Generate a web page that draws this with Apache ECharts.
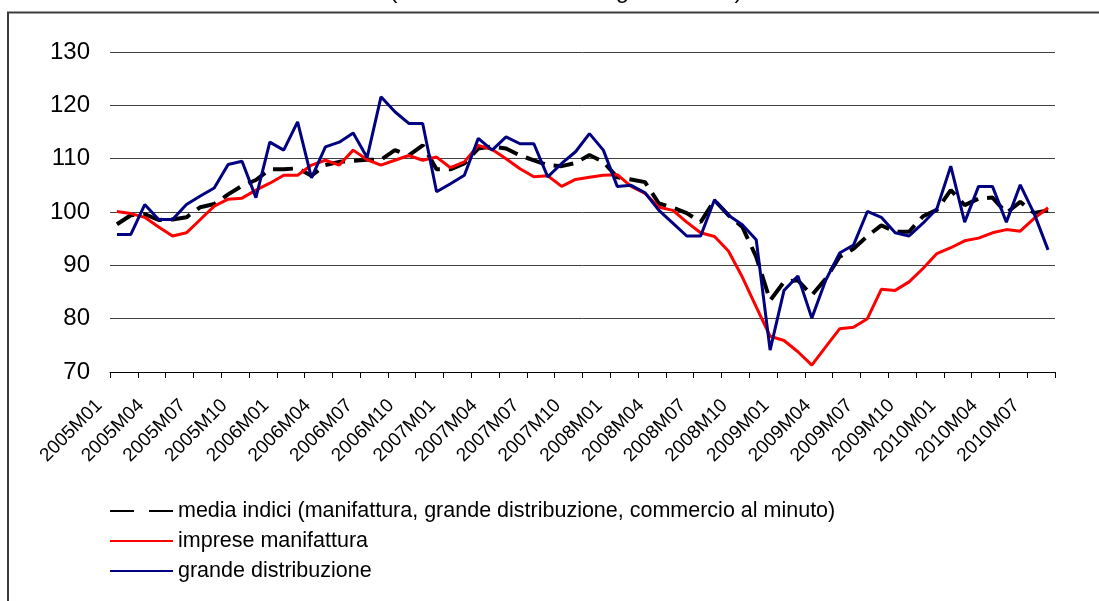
<!DOCTYPE html>
<html>
<head>
<meta charset="utf-8">
<script src="https://cdn.jsdelivr.net/npm/echarts@6/dist/echarts.min.js"></script>
<style>
  html, body { margin: 0; padding: 0; background: #fff; }
  #chart { width: 1099px; height: 601px; }
</style>
</head>
<body>
<div id="chart"></div>
<script>
// ── Data ───────────────────────────────────────────────────────────────────────
const years = ['2005', '2006', '2007', '2008', '2009', '2010']
const months = ['M01', 'M02', 'M03', 'M04', 'M05', 'M06', 'M07', 'M08', 'M09', 'M10', 'M11', 'M12']
const lastMonth = '2010M08'

const categories = []
for (const y of years) {
  for (const m of months) {
    categories.push(y + m)
    if (y + m === lastMonth) break
  }
}

// media indici (manifattura, grande distribuzione, commercio al minuto)
const mediaIndici = [
  97.7, 99.4, 99.6, 98.5, 98.6, 99.0, 100.9, 101.5, 103.3, 104.9, 106.0, 108.0,
  108.0, 108.2, 106.8, 108.8, 109.4, 109.6, 109.8, 109.8, 111.6, 110.6, 112.5, 108.0,
  108.0, 109.1, 111.9, 112.3, 111.9, 110.6, 109.7, 108.8, 108.6, 109.2, 110.7, 109.4,
  106.5, 106.1, 105.6, 101.6, 100.8, 99.8, 98.1, 102.2, 99.4, 97.2, 91.6, 83.4,
  86.9, 87.2, 84.4, 87.5, 91.6, 93.1, 95.5, 97.5, 96.3, 96.3, 99.2, 100.4,
  104.1, 101.3, 102.5, 102.7, 99.8, 101.9, 99.8, 100.3,
]

// imprese manifattura
const impreseManifattura = [
  100.1, 99.7, 99.0, 97.2, 95.5, 96.1, 98.6, 101.1, 102.4, 102.6, 104.1, 105.4,
  106.9, 106.9, 108.8, 109.7, 108.8, 111.6, 109.8, 108.8, 109.7, 110.6, 109.7, 110.3,
  108.3, 109.4, 112.5, 111.7, 110.0, 108.1, 106.6, 106.8, 104.8, 106.1, 106.5, 106.9,
  107.0, 104.8, 103.5, 100.9, 100.3, 98.1, 96.1, 95.4, 92.7, 87.8, 82.2, 76.7,
  75.9, 73.8, 71.3, 74.7, 78.1, 78.4, 80.0, 85.5, 85.3, 86.9, 89.4, 92.2,
  93.3, 94.6, 95.1, 96.1, 96.7, 96.4, 98.8, 100.8,
]

// grande distribuzione
const grandeDistribuzione = [
  95.8, 95.8, 101.4, 98.6, 98.6, 101.4, 103.0, 104.5, 108.9, 109.5, 102.7, 113.1,
  111.6, 116.9, 106.4, 112.2, 113.1, 114.8, 110.2, 121.6, 118.8, 116.6, 116.6, 103.8,
  105.3, 106.9, 113.8, 111.6, 114.1, 112.8, 112.8, 106.6, 109.1, 111.3, 114.7, 111.6,
  104.8, 105.0, 103.6, 100.3, 97.9, 95.5, 95.5, 102.3, 99.4, 97.6, 94.8, 74.1,
  85.3, 88.0, 80.1, 87.2, 92.3, 93.8, 100.1, 99.0, 96.1, 95.5, 97.9, 100.6,
  108.6, 98.1, 104.8, 104.8, 98.1, 105.1, 99.7, 92.9,
]

const seriesNames = [
  'media indici (manifattura, grande distribuzione, commercio al minuto)',
  'imprese manifattura',
  'grande distribuzione',
]
const titleText = '(dati 2005=100 destagionalizzati)'

// ── Chart ──────────────────────────────────────────────────────────────────────
const FONT = 'Arial, "Liberation Sans", sans-serif'
const chart = echarts.init(document.getElementById('chart'), null, { renderer: 'canvas' })

chart.setOption({
  animation: false,
  backgroundColor: '#ffffff',
  textStyle: { fontFamily: FONT, color: '#000' },
  graphic: [
    {
      type: 'rect',
      shape: { x: 8, y: 12.5, width: 1200, height: 700 },
      style: { fill: 'none', stroke: '#3c3c3c', lineWidth: 2 },
      silent: true,
    },
    {
      type: 'text',
      x: 566, y: -9,
      style: {
        text: titleText,
        font: '24px ' + FONT,
        fill: '#000',
        align: 'center',
        verticalAlign: 'middle',
      },
      silent: true,
    },
  ],
  grid: { left: 110, top: 52, width: 945, height: 320, containLabel: false },
  legend: {
    orient: 'vertical',
    left: 104,
    top: 495,
    itemWidth: 63,
    itemHeight: 20,
    itemGap: 8,
    itemStyle: { opacity: 0 },   // only the line in the key, no marker
    textStyle: { fontFamily: FONT, fontSize: 21.5, lineHeight: 20, color: '#000' },
    data: [
      { name: seriesNames[0], lineStyle: { type: [24, 15] } },
      { name: seriesNames[1] },
      { name: seriesNames[2] },
    ],
  },
  xAxis: {
    type: 'category',
    data: categories,
    boundaryGap: true,
    axisLine: { lineStyle: { color: '#000', width: 1 } },
    axisTick: { show: true, interval: 1, length: 6, lineStyle: { color: '#000' } },
    axisLabel: {
      interval: 2,
      rotate: 45,
      margin: 13,
      padding: [0, 25, 0, 0],
      fontFamily: FONT,
      fontSize: 19,
      color: '#000',
    },
    splitLine: { show: false },
  },
  yAxis: {
    type: 'value',
    min: 70,
    max: 130,
    interval: 10,
    axisLine: { show: false },
    axisTick: { show: false },
    axisLabel: { margin: 20, fontFamily: FONT, fontSize: 24, color: '#000' },
    splitLine: { lineStyle: { color: '#404040', width: 1 } },
  },
  series: [
    {
      name: seriesNames[0],
      type: 'line',
      data: mediaIndici,
      symbol: 'none',
      lineStyle: { color: '#000000', width: 4, type: [20, 9] },
      itemStyle: { color: '#000000' },
      z: 2,
    },
    {
      name: seriesNames[1],
      type: 'line',
      data: impreseManifattura,
      symbol: 'none',
      lineStyle: { color: '#ff0000', width: 3 },
      itemStyle: { color: '#ff0000' },
      z: 3,
    },
    {
      name: seriesNames[2],
      type: 'line',
      data: grandeDistribuzione,
      symbol: 'none',
      lineStyle: { color: '#000080', width: 3 },
      itemStyle: { color: '#000080' },
      z: 4,
    },
  ],
})
</script>
</body>
</html>
